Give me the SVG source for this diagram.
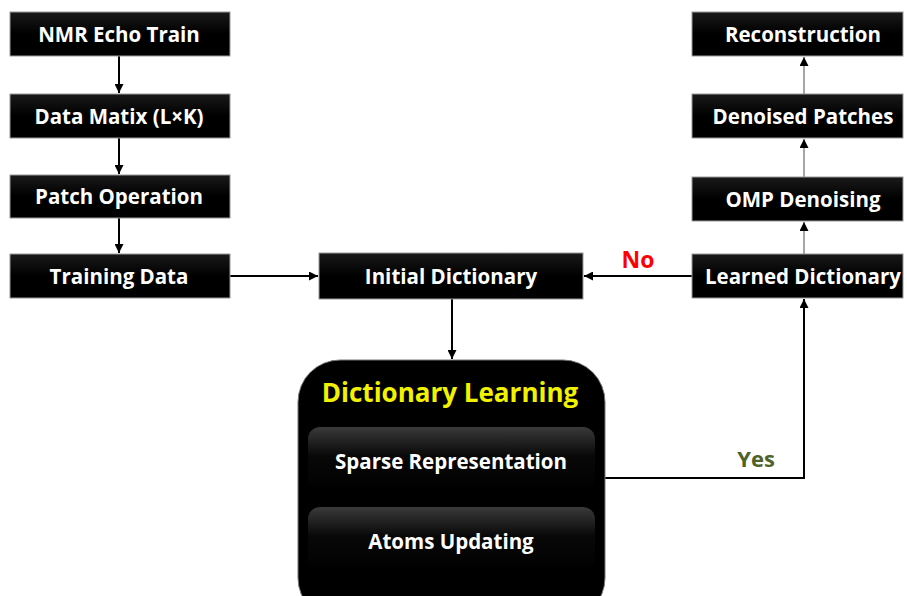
<svg xmlns="http://www.w3.org/2000/svg" width="907" height="596" viewBox="0 0 907 596">
<defs>
<style>
.box{fill:url(#boxg);stroke:#9a9a9a;stroke-width:1}
.t{font-family:"Open Sans","Liberation Sans",sans-serif;font-weight:bold;font-size:20.5px;fill:#fff;text-anchor:middle;dominant-baseline:central}
.c{stroke:#000;stroke-width:2;fill:none}
.g{stroke:#888;stroke-width:1.5;fill:none}
</style>
<linearGradient id="boxg" x1="0" y1="0" x2="0" y2="1">
<stop offset="0" stop-color="#1a1a1a"/><stop offset="0.5" stop-color="#000"/><stop offset="1" stop-color="#000"/>
</linearGradient>
<linearGradient id="barg" x1="0" y1="0" x2="0" y2="1">
<stop offset="0" stop-color="#3a3a3a"/><stop offset="0.45" stop-color="#080808"/><stop offset="1" stop-color="#000"/>
</linearGradient>
<marker id="ah" viewBox="0 0 10 10" refX="10" refY="5" markerWidth="4.5" markerHeight="4.5" orient="auto" markerUnits="strokeWidth">
<path d="M0,0 L10,5 L0,10 z" fill="#000"/>
</marker>
<marker id="ahs" viewBox="0 0 10 10" refX="10" refY="5" markerWidth="6" markerHeight="6" orient="auto" markerUnits="strokeWidth">
<path d="M0,0 L10,5 L0,10 z" fill="#000"/>
</marker>
</defs>
<rect width="907" height="596" fill="#fff"/>
<g id="connectors">
<line class="c" x1="119" y1="56" x2="119" y2="93" marker-end="url(#ah)"/>
<line class="c" x1="119" y1="138" x2="119" y2="174" marker-end="url(#ah)"/>
<line class="c" x1="119" y1="218" x2="119" y2="253" marker-end="url(#ah)"/>
<line class="c" x1="230" y1="276" x2="318" y2="276" marker-end="url(#ah)"/>
<line class="c" x1="692" y1="276" x2="584" y2="276" marker-end="url(#ah)"/>
<line class="c" x1="452" y1="299" x2="452" y2="359" marker-end="url(#ah)"/>
<polyline class="c" points="605,478 804,478 804,299" marker-end="url(#ah)"/>
<line class="g" x1="804" y1="254" x2="804" y2="222" marker-end="url(#ahs)"/>
<line class="g" x1="804" y1="177" x2="804" y2="139" marker-end="url(#ahs)"/>
<line class="g" x1="804" y1="94" x2="804" y2="57" marker-end="url(#ahs)"/>
<text x="638" y="259" font-family="Open Sans,Liberation Sans,sans-serif" font-weight="bold" font-size="23" fill="#ff0000" text-anchor="middle" dominant-baseline="central">No</text>
<text x="756" y="458" font-family="Open Sans,Liberation Sans,sans-serif" font-weight="bold" font-size="22" fill="#4f6228" text-anchor="middle" dominant-baseline="central">Yes</text>
</g>
<g id="nmr"><rect class="box" x="10" y="12" width="220" height="44"/><text class="t" x="119" y="34">NMR Echo Train</text></g>
<g id="matrix"><rect class="box" x="10" y="94" width="220" height="44"/><text class="t" x="119" y="116">Data Matix (L×K)</text></g>
<g id="patch"><rect class="box" x="10" y="175" width="220" height="43"/><text class="t" x="119" y="196">Patch Operation</text></g>
<g id="training"><rect class="box" x="10" y="254" width="220" height="44"/><text class="t" x="119" y="276">Training Data</text></g>
<g id="initial"><rect class="box" x="319" y="253" width="264" height="46"/><text class="t" x="451" y="276">Initial Dictionary</text></g>
<g id="recon"><rect class="box" x="692" y="12" width="211" height="44"/><text class="t" x="803" y="34">Reconstruction</text></g>
<g id="denoised"><rect class="box" x="692" y="94" width="211" height="44"/><text class="t" x="803" y="116">Denoised Patches</text></g>
<g id="omp"><rect class="box" x="692" y="177" width="211" height="44"/><text class="t" x="803" y="199">OMP Denoising</text></g>
<g id="learned"><rect class="box" x="692" y="254" width="211" height="44"/><text class="t" x="803" y="276">Learned Dictionary</text></g>
<g id="dictlearning">
<rect x="298" y="360" width="307" height="260" rx="42" ry="42" fill="#000" stroke="#777" stroke-width="1"/>
<text x="450" y="392" font-family="Open Sans,Liberation Sans,sans-serif" font-weight="bold" font-size="26" fill="#f2f200" text-anchor="middle" dominant-baseline="central">Dictionary Learning</text>
<g id="sparse"><rect x="308" y="427" width="287" height="65" rx="12" ry="12" fill="url(#barg)"/><text class="t" x="451" y="461">Sparse Representation</text></g>
<g id="atoms"><rect x="308" y="507" width="287" height="65" rx="12" ry="12" fill="url(#barg)"/><text class="t" x="451" y="541">Atoms Updating</text></g>
</g>
</svg>
